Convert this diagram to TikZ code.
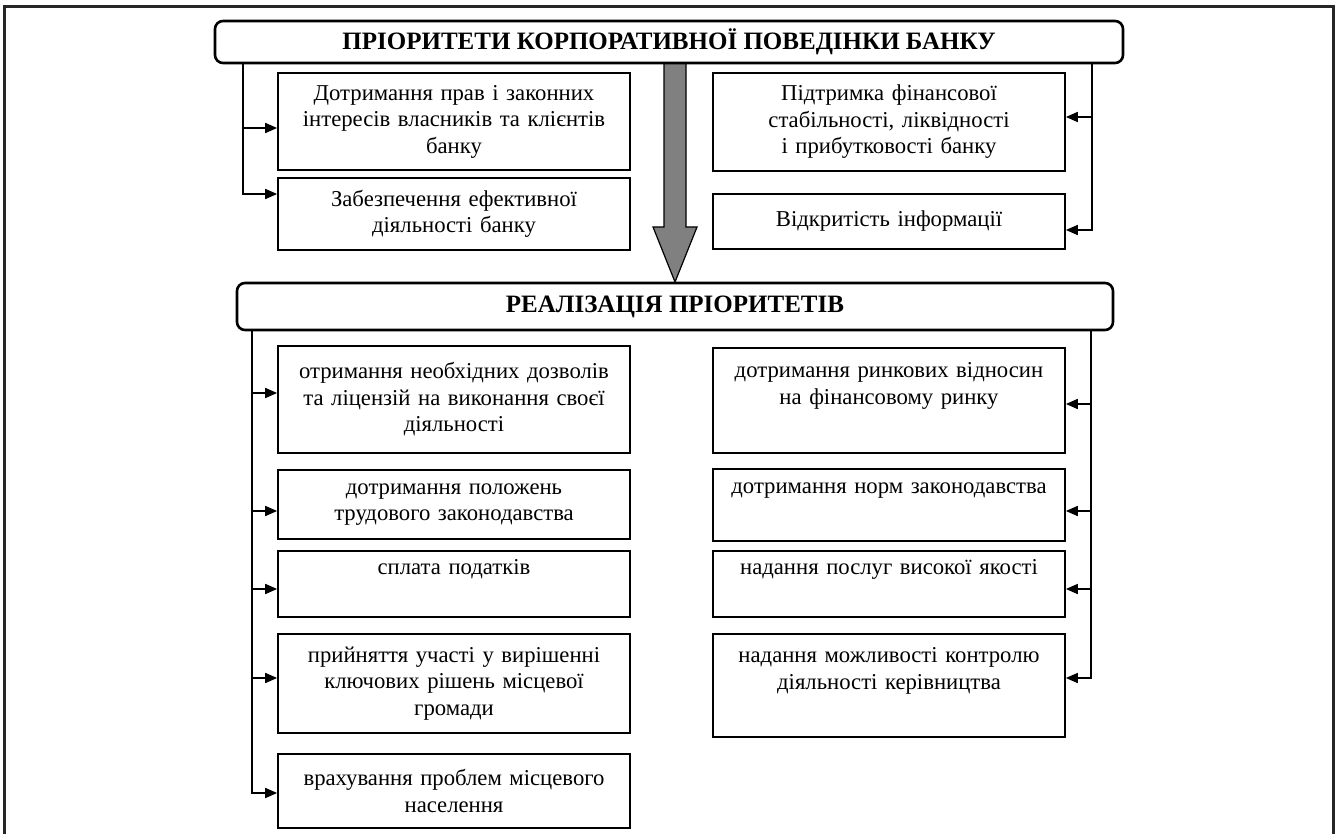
\documentclass[tikz,border=0pt]{standalone}
\usepackage{fontspec}
\setmainfont{Liberation Serif}
\usetikzlibrary{arrows.meta}

\begin{document}
\begin{tikzpicture}[x=1pt, y=-1pt,
    title/.style = {draw, line width=2.6pt, rounded corners=8pt, inner sep=0pt, font=\fontsize{25}{29}\selectfont\bfseries},
    item/.style = {draw, line width=1.7pt, minimum width=352pt, text width=340pt, align=center, inner sep=0pt, font=\fontsize{22.7}{26.5}\selectfont},
    arr/.style = {line width=1.7pt, -{Triangle[length=12pt,width=10pt]}}]
	\useasboundingbox (0,0) rectangle (1336,834);
	\draw[line width=3pt, black!85] (4,834) -- (4,7) -- (1333,7) -- (1333,834);
	% big arrow between the two headings
	\draw[fill=gray, line width=1.2pt] (664,63) -- (664,227) -- (653,227) -- (675,282) -- (697,227) -- (686,227) -- (686,63) -- cycle;
	\node[title, minimum width=908pt, minimum height=42pt] (prio) at (669,42) {ПРІОРИТЕТИ КОРПОРАТИВНОЇ ПОВЕДІНКИ БАНКУ};
	\node[title, minimum width=876pt, minimum height=47pt] (impl) at (675,306.5) {РЕАЛІЗАЦІЯ ПРІОРИТЕТІВ};
	% priorities
	\node[item, minimum height=97pt] (rights) at (454,121.5) {Дотримання прав і законних\\ інтересів власників та клієнтів\\ банку};
	\node[item, minimum height=72pt] (efficiency) at (454,214) {Забезпечення ефективної\\ діяльності банку};
	\node[item, minimum height=98pt] (stability) at (889,122) {Підтримка фінансової\\ стабільності, ліквідності\\ і прибутковості банку};
	\node[item, minimum height=55pt] (openness) at (889,221.5) {Відкритість інформації};
	% realisation
	\node[item, minimum height=107pt] (permits) at (454,399.5) {отримання необхідних дозволів\\ та ліцензій на виконання своєї\\ діяльності};
	\node[item, minimum height=69pt] (labour) at (454,504.5) {дотримання положень\\ трудового законодавства};
	\node[item, minimum height=66pt] (taxes) at (454,584) {сплата податків\\ \strut};
	\node[item, minimum height=99pt] (community) at (454,683.5) {прийняття участі у вирішенні\\ ключових рішень місцевої\\ громади};
	\node[item, minimum height=74pt] (population) at (454,791) {врахування проблем місцевого\\ населення};
	\node[item, minimum height=105pt] (market) at (889,400.5) {дотримання ринкових відносин\\ на фінансовому ринку\\ \strut};
	\node[item, minimum height=72pt] (laws) at (889,505) {дотримання норм законодавства\\ \strut};
	\node[item, minimum height=66pt] (quality) at (889,584) {надання послуг високої якості\\ \strut};
	\node[item, minimum height=103pt] (control) at (889,685.5) {надання можливості контролю\\ діяльності керівництва\\ \strut};
	% connectors
	\coordinate (pl) at (243,63);
	\coordinate (pr) at (1092,63);
	\coordinate (il) at (252,330);
	\coordinate (ir) at (1091,330);
	\draw[arr] (pl) |- ([yshift=-6.5]rights.west);
	\draw[arr] (pl) |- ([yshift=20]efficiency.west);
	\draw[arr] (pr) |- ([yshift=5]stability.east);
	\draw[arr] (pr) |- ([yshift=-8.5]openness.east);
	\draw[arr] (il) |- ([yshift=6.5]permits.west);
	\draw[arr] (il) |- ([yshift=-6.5]labour.west);
	\draw[arr] (il) |- ([yshift=-5]taxes.west);
	\draw[arr] (il) |- ([yshift=5.5]community.west);
	\draw[arr] (il) |- ([yshift=-2]population.west);
	\draw[arr] (ir) |- ([yshift=-3.5]market.east);
	\draw[arr] (ir) |- ([yshift=-6]laws.east);
	\draw[arr] (ir) |- ([yshift=-5]quality.east);
	\draw[arr] (ir) |- ([yshift=7.5]control.east);
\end{tikzpicture}
\end{document}
